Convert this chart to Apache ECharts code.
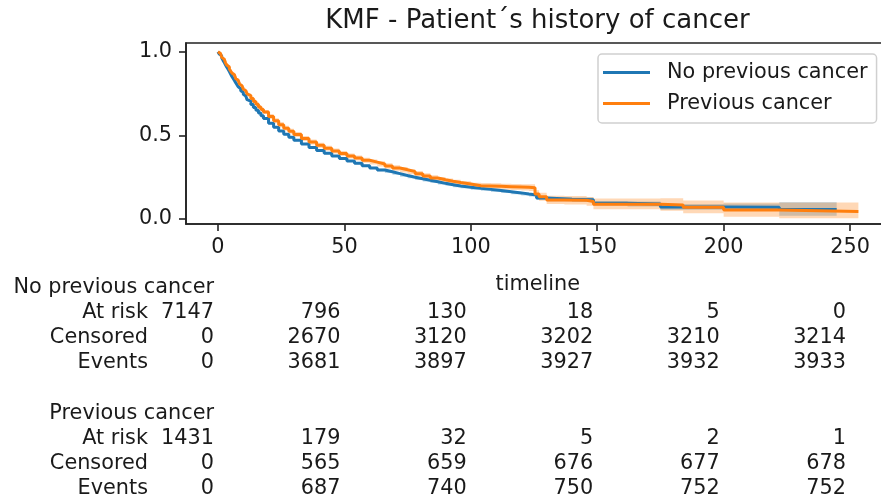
<!DOCTYPE html>
<html>
<head>
<meta charset="utf-8">
<script src="https://cdn.jsdelivr.net/npm/echarts@6/dist/echarts.min.js"></script>
<style>
  html, body { margin: 0; padding: 0; background: #fff; }
  #chart { width: 881px; height: 500px; }
</style>
</head>
<body>
<div id="chart"></div>
<script>
// Kaplan–Meier survival estimates with 95% confidence limits.
// Group: no previous cancer
const timesNo = [0,0.5,1,1.5,2,2.5,3,3.5,4,4.5,5,5.5,6,6.5,7,7.5,8,8.5,9,9.5,10,10.5,11,11.5,
  12,13,14,15,16,17,18,
  20,22,24,26,28,30,
  33,36,39,42,45,48,51,54,57,60,63,66,69,72,75,78,81,84,87,90,93,96,
  100,104,108,112,116,120,
  123,126,130,140,148.5,162,175,200,222,244.7];
const survNo = [1.000,0.986,0.975,0.962,0.948,0.935,0.921,0.907,0.895,0.881,0.866,0.852,0.840,0.828,0.815,0.803,0.790,0.779,0.767,0.757,0.745,0.735,0.724,0.713,
  0.704,0.685,0.667,0.650,0.633,0.617,0.601,
  0.573,0.548,0.526,0.506,0.489,0.470,
  0.448,0.428,0.410,0.393,0.377,0.362,0.347,0.333,0.318,0.305,0.293,0.282,0.271,0.260,0.250,0.240,0.231,0.222,0.213,0.205,0.197,0.190,
  0.183,0.177,0.170,0.163,0.156,0.149,
  0.143,0.126,0.118,0.115,0.094,0.090,0.072,0.070,0.056,0.056];
const lowerNo = [1.000,0.983,0.972,0.959,0.945,0.932,0.918,0.904,0.892,0.877,0.862,0.848,0.835,0.823,0.810,0.798,0.785,0.774,0.762,0.752,0.740,0.730,0.719,0.708,
  0.699,0.680,0.662,0.645,0.628,0.612,0.596,
  0.567,0.542,0.520,0.500,0.483,0.464,
  0.442,0.422,0.404,0.387,0.371,0.356,0.341,0.327,0.312,0.299,0.286,0.275,0.264,0.253,0.243,0.233,0.224,0.215,0.206,0.198,0.190,0.183,
  0.175,0.169,0.162,0.155,0.148,0.141,
  0.134,0.115,0.106,0.102,0.080,0.075,0.055,0.048,0.020,0.020];
const upperNo = [1.000,0.989,0.978,0.965,0.951,0.938,0.924,0.910,0.898,0.885,0.870,0.856,0.845,0.833,0.820,0.808,0.795,0.784,0.772,0.762,0.750,0.740,0.729,0.718,
  0.709,0.690,0.672,0.655,0.638,0.622,0.606,
  0.579,0.554,0.532,0.512,0.495,0.476,
  0.454,0.434,0.416,0.399,0.383,0.368,0.353,0.339,0.324,0.311,0.300,0.289,0.278,0.267,0.257,0.247,0.238,0.229,0.220,0.212,0.204,0.197,
  0.191,0.185,0.178,0.171,0.164,0.157,
  0.152,0.137,0.130,0.128,0.108,0.105,0.089,0.092,0.100,0.100];

// Group: previous cancer
const timesPrev = [0,0.5,1,1.5,2,2.5,3,3.5,4,4.5,5,5.5,6,6.5,7,7.5,8,8.5,9,9.5,10,10.5,11,11.5,
  12,13,14,15,16,17,18,
  20,22,24,26,28,30,
  33,36,39,42,45,48,51,54,57,60,63,66,69,72,75,78,81,84,87,90,93,96,
  100,104,108,112,116,120,
  123,125.4,127,130,137,145.8,148.5,175,184,200,222,253.3];
const survPrev = [1.000,0.989,0.978,0.966,0.955,0.944,0.932,0.920,0.909,0.897,0.885,0.873,0.862,0.851,0.840,0.829,0.818,0.807,0.797,0.787,0.777,0.767,0.757,0.748,
  0.738,0.720,0.703,0.686,0.670,0.655,0.640,
  0.612,0.587,0.564,0.543,0.524,0.505,
  0.481,0.460,0.441,0.423,0.406,0.391,0.377,0.364,0.351,0.340,0.329,0.317,0.305,0.294,0.283,0.271,0.257,0.245,0.235,0.226,0.218,0.209,
  0.199,0.197,0.195,0.193,0.191,0.189,
  0.187,0.150,0.133,0.114,0.112,0.105,0.088,0.084,0.070,0.054,0.044,0.044];
const lowerPrev = [1.000,0.983,0.970,0.958,0.947,0.936,0.924,0.912,0.901,0.888,0.877,0.863,0.850,0.839,0.828,0.817,0.806,0.795,0.785,0.775,0.765,0.755,0.745,0.736,
  0.726,0.708,0.691,0.674,0.658,0.643,0.628,
  0.597,0.572,0.549,0.528,0.509,0.490,
  0.466,0.445,0.426,0.408,0.391,0.376,0.362,0.349,0.336,0.325,0.313,0.301,0.289,0.278,0.267,0.255,0.241,0.229,0.219,0.210,0.202,0.193,
  0.181,0.179,0.177,0.175,0.173,0.171,
  0.167,0.128,0.109,0.089,0.087,0.079,0.058,0.049,0.035,0.014,0.004,0.004];
const upperPrev = [1.000,0.995,0.986,0.974,0.963,0.952,0.940,0.928,0.917,0.905,0.893,0.883,0.874,0.863,0.852,0.841,0.830,0.819,0.809,0.799,0.789,0.779,0.769,0.760,
  0.750,0.732,0.715,0.698,0.682,0.667,0.652,
  0.627,0.602,0.579,0.558,0.539,0.520,
  0.496,0.475,0.456,0.438,0.421,0.406,0.392,0.379,0.366,0.355,0.345,0.333,0.321,0.310,0.299,0.287,0.273,0.261,0.251,0.242,0.234,0.225,
  0.217,0.215,0.213,0.211,0.209,0.207,
  0.207,0.172,0.157,0.139,0.137,0.131,0.123,0.124,0.110,0.099,0.099,0.099];

// Axis ticks
const xTicks = [0, 50, 100, 150, 200, 250];
const yTicks = [0, 0.5, 1.0];

// Number-at-risk table, one column per x tick
const groupNames = ['No previous cancer', 'Previous cancer'];
const rowNames = ['At risk', 'Censored', 'Events'];
const atRiskNo = [7147, 796, 130, 18, 5, 0];
const censoredNo = [0, 2670, 3120, 3202, 3210, 3214];
const eventsNo = [0, 3681, 3897, 3927, 3932, 3933];
const atRiskPrev = [1431, 179, 32, 5, 2, 1];
const censoredPrev = [0, 565, 659, 676, 677, 678];
const eventsPrev = [0, 687, 740, 750, 752, 752];

const FONT = 'DejaVu Sans';
const TEXT = '#1a1a1a';
const BLUE = '#1f77b4';
const ORANGE = '#ff7f0e';

function pairs(ts, vs) { return ts.map((t, i) => [t, vs[i]]); }

// Confidence band drawn as one step-shaped polygon through the axis scales.
function band(id, ts, lo, up, fill) {
  return {
    name: id, type: 'custom', silent: true, animation: false, clip: true,
    data: ts.map((t, i) => [t, lo[i], up[i]]),
    encode: { x: 0, y: [1, 2] },
    renderItem(params, api) {
      if (params.dataIndexInside !== 0) return null;
      const n = params.dataInsideLength;
      const upperEdge = [], lowerEdge = [];
      for (let i = 0; i < n; i++) {
        const t0 = api.value(0, i);
        const t1 = i + 1 < n ? api.value(0, i + 1) : t0;
        const u = api.value(2, i), l = api.value(1, i);
        upperEdge.push(api.coord([t0, u]), api.coord([t1, u]));
        lowerEdge.push(api.coord([t0, l]), api.coord([t1, l]));
      }
      return {
        type: 'polygon',
        shape: { points: upperEdge.concat(lowerEdge.reverse()) },
        style: { fill }
      };
    }
  };
}

function curve(name, ts, vs, color) {
  return { name, type: 'line', step: 'end', symbol: 'none', data: pairs(ts, vs),
    color, lineStyle: { color, width: 3 }, animation: false };
}

const chart = echarts.init(document.getElementById('chart'), null, { renderer: 'canvas' });

chart.setOption({
  backgroundColor: '#fff',
  animation: false,
  title: {
    text: 'KMF - Patient\u00b4s history of cancer',
    left: 537.5, top: 8, textAlign: 'center', padding: 0,
    textStyle: { fontFamily: FONT, fontSize: 26, fontWeight: 'normal', color: TEXT }
  },
  legend: {
    orient: 'vertical', left: 598, top: 54,
    padding: [8, 9, 9, 5], itemGap: 10, itemWidth: 47, itemHeight: 3,
    icon: 'rect',
    borderColor: '#d0d0d0', borderWidth: 1.5, borderRadius: 4,
    backgroundColor: 'rgba(255,255,255,0.8)',
    data: groupNames,
    textStyle: { fontFamily: FONT, fontSize: 20.8, color: TEXT, padding: [0, 0, 0, 12] }
  },
  grid: {
    left: 186, top: 43, width: 703.5, height: 181,
    outerBoundsMode: 'none',
    show: true, borderColor: '#222', borderWidth: 1.6, backgroundColor: 'transparent'
  },
  xAxis: {
    type: 'value', min: -12.65, max: 265.6,
    name: 'timeline', nameLocation: 'middle', nameGap: 50,
    nameTextStyle: { fontFamily: FONT, fontSize: 20.8, color: TEXT },
    axisLine: { show: true, onZero: false, lineStyle: { color: '#222', width: 1.6 } },
    axisTick: { show: true, length: 7, customValues: xTicks, lineStyle: { color: '#222', width: 1.6 } },
    axisLabel: { customValues: xTicks, margin: 13, fontFamily: FONT, fontSize: 20.8, color: TEXT },
    splitLine: { show: false }
  },
  yAxis: {
    type: 'value', min: -0.03, max: 1.052,
    axisLine: { show: true, onZero: false, lineStyle: { color: '#222', width: 1.6 } },
    axisTick: { show: true, length: 7, customValues: yTicks, lineStyle: { color: '#222', width: 1.6 } },
    axisLabel: { customValues: yTicks, margin: 14, fontFamily: FONT, fontSize: 20.8, color: TEXT,
      formatter: v => v.toFixed(1) },
    splitLine: { show: false }
  },
  series: [
    band('no-ci', timesNo, lowerNo, upperNo, 'rgba(31,119,180,0.3)'),
    curve(groupNames[0], timesNo, survNo, BLUE),
    band('prev-ci', timesPrev, lowerPrev, upperPrev, 'rgba(255,127,14,0.3)'),
    curve(groupNames[1], timesPrev, survPrev, ORANGE)
  ]
});

// At-risk table under the axis; columns sit on the x tick positions.
const tables = [
  { name: groupNames[0], rows: [atRiskNo, censoredNo, eventsNo], top: 288 },
  { name: groupNames[1], rows: [atRiskPrev, censoredPrev, eventsPrev], top: 413.5 }
];
const rowGap = 25;
const graphics = [];
const firstColRight = chart.convertToPixel({ xAxisIndex: 0 }, xTicks[0]) - 4;
const label = (text, x, y, align) => ({
  type: 'text', x, y, silent: true,
  style: { text, fill: TEXT, font: '20.8px "DejaVu Sans"', textAlign: align, textVerticalAlign: 'middle' }
});
tables.forEach(tb => {
  graphics.push(label(tb.name, firstColRight, tb.top, 'right'));
  tb.rows.forEach((vals, r) => {
    const y = tb.top + rowGap * (r + 1);
    graphics.push(label(rowNames[r], 148, y, 'right'));
    vals.forEach((v, c) => {
      const x = chart.convertToPixel({ xAxisIndex: 0 }, xTicks[c]) - 4;
      graphics.push(label(String(v), x, y, 'right'));
    });
  });
});
chart.setOption({ graphic: graphics });
</script>
</body>
</html>
